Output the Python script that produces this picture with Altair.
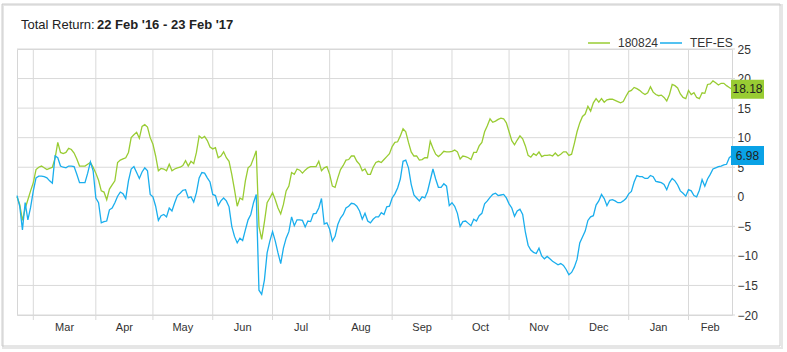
import altair as alt
import pandas as pd

# ---------------- data ----------------
series_names = ["180824", "TEF-ES"]
line_colors = ["#99cc33", "#1aaeed"]
badge_colors = ["#99cc33", "#0aa2e6"]

green_values = [
    0.0, -1.3, -4.0, -2.0, -0.5, 1.0, 2.4, 4.6, 5.0, 5.2,
    4.9, 4.6, 4.8, 5.0, 6.5, 9.2, 7.5, 7.3, 7.5, 8.2,
    8.0, 7.4, 6.4, 5.2, 5.2, 5.2, 5.5, 5.8, 5.0, 4.0,
    2.8, 1.0, 0.8, -0.5, 1.3, 2.0, 2.7, 5.8, 6.2, 6.4,
    6.6, 7.5, 10.0, 10.5, 10.9, 9.9, 11.9, 12.2, 11.8, 10.0,
    8.9, 6.9, 4.4, 4.8, 4.7, 4.4, 5.5, 4.4, 4.7, 4.9,
    5.0, 5.3, 6.1, 5.2, 6.0, 5.6, 7.5, 10.3, 9.9, 10.2,
    9.5, 8.4, 8.1, 8.3, 6.6, 6.9, 7.6, 6.6, 6.0, 3.8,
    1.2, -1.6, -0.2, -0.5, 2.7, 4.9, 5.3, 6.5, 7.8, -5.0,
    -7.2, -4.3, -1.0, -0.2, 0.7, -0.5, -1.9, -2.9, -1.3, 1.0,
    1.8, 4.1, 3.8, 4.7, 4.5, 4.0, 4.5, 4.9, 5.1, 5.1,
    5.1, 6.0, 4.4, 4.9, 5.1, 3.8, 1.8, 1.6, 3.2, 4.6,
    5.3, 6.2, 6.3, 6.9, 6.9, 6.0, 5.5, 4.4, 4.7, 3.8,
    3.8, 5.0, 5.8, 6.0, 5.8, 6.3, 6.8, 7.3, 8.5, 9.2,
    9.3, 10.3, 11.5, 11.0, 9.2, 7.6, 6.9, 6.9, 6.2, 6.3,
    6.6, 6.6, 9.4, 8.2, 7.2, 6.8, 7.2, 7.7, 7.6, 7.6,
    7.7, 7.9, 7.6, 6.4, 6.9, 6.8, 6.6, 6.3, 7.5, 7.5,
    8.6, 9.2, 11.0, 12.0, 13.2, 12.6, 12.8, 13.1, 13.3, 13.2,
    12.5, 11.0, 9.5, 8.8, 9.6, 10.3, 9.8, 8.6, 7.0, 6.7,
    7.3, 7.0, 7.6, 6.8, 7.0, 7.0, 7.1, 6.9, 7.4, 6.9,
    7.2, 7.6, 7.6, 7.0, 7.2, 9.0, 11.0, 12.5, 13.6, 14.0,
    15.3, 14.5, 15.9, 16.6, 16.0, 16.6, 16.0, 16.4, 16.5, 16.5,
    16.3, 16.1, 15.9, 16.1, 17.0, 17.8, 18.0, 18.5, 18.3, 18.0,
    17.6, 17.3, 17.6, 18.6, 17.7, 17.3, 17.1, 17.2, 16.8, 16.2,
    17.3, 19.0, 18.8, 18.4, 17.4, 16.8, 16.6, 18.0, 17.3, 17.6,
    16.8, 16.6, 17.6, 17.5, 19.0, 19.1, 19.6, 19.3, 18.9, 19.2,
    19.2, 18.8, 18.5, 18.18,
]

blue_values = [
    0.2, -1.6, -5.6, -1.0, -3.9, -1.8, 1.0, 3.2, 3.5, 3.5,
    3.4, 3.2, 2.7, 2.3, 6.9, 6.6, 5.2, 5.0, 4.9, 5.2,
    5.2, 5.1, 3.8, 2.4, 2.4, 2.4, 4.0, 5.9, 4.4, -0.2,
    -1.0, -4.4, -4.2, -4.1, -2.2, -1.9, -1.0, 0.1, 0.8, 0.5,
    -0.3, 2.7, 4.7, 5.1, 4.1, 3.1, 4.2, 4.9, 4.4, 0.4,
    0.0, -1.6, -4.0, -3.2, -3.0, -3.4, -1.9, -2.4, -1.0, 0.2,
    0.6, 1.1, 1.2, -0.2, 0.0, -0.9, 0.7, 3.2, 4.1, 4.0,
    3.2, 2.5, 0.4, 0.2, -1.5, -0.7, -0.2, -0.7, -1.7, -5.0,
    -6.7, -7.8, -7.0, -7.4, -5.6, -3.9, -3.0, -1.0, 0.4, -15.8,
    -16.5, -14.1, -9.5, -7.5, -5.9, -7.5, -9.5, -11.3, -8.7, -7.0,
    -5.9, -3.4, -4.9, -3.9, -3.9, -4.0, -5.1, -4.1, -4.2, -2.9,
    -2.8, -1.9, -0.3, -4.6, -4.4, -5.5, -7.5, -6.7, -4.7, -3.6,
    -3.0, -1.9, -1.6, -1.1, -1.2, -1.6, -2.4, -3.8, -2.8, -4.1,
    -4.4, -3.8, -3.4, -3.4, -2.7, -3.0, -1.7, -1.6, -0.2, 0.5,
    1.5, 3.0, 6.0, 6.2, 4.9, 2.1, 0.3, -0.2, -0.7, 0.0,
    -0.2, 0.9, 2.8, 4.7, 3.0, 1.6, 1.6, 2.2, 1.8, -1.5,
    -1.0, -1.6, -2.8, -5.0, -4.2, -4.1, -4.5, -4.9, -3.8, -4.1,
    -3.2, -2.8, -1.2, -0.7, -0.1, 0.4, 0.6, 0.2, 0.3, 0.4,
    -0.2, -1.2, -1.9, -3.3, -2.4, -2.1, -3.0, -6.0, -8.2, -9.0,
    -9.4, -9.6, -8.7, -10.0, -10.5, -10.1, -10.5, -10.9, -11.2, -11.5,
    -11.3, -11.6, -12.3, -13.2, -12.8, -11.9, -10.6, -7.8, -6.8, -5.8,
    -4.0, -3.4, -3.2, -1.4, -0.7, 0.4, -0.3, -1.5, -0.6, -0.5,
    -0.7, -1.0, -1.0, -0.7, -0.3, 0.5, 0.9, 2.5, 3.6, 3.4,
    3.4, 3.1, 3.1, 3.6, 3.4, 2.6, 2.5, 2.4, 2.1, 1.2,
    2.4, 3.1, 2.7, 2.0, 1.0, 0.6, 0.1, 1.2, 1.0, 0.2,
    0.0, 1.1, 2.9, 1.8, 3.0, 3.8, 4.7, 4.9, 5.1, 5.2,
    5.4, 5.5, 6.6, 6.98,
]

y_ticks = [-20, -15, -10, -5, 0, 5, 10, 15, 20, 25]
month_labels = ["Mar", "Apr", "May", "Jun", "Jul", "Aug", "Sep", "Oct",
                "Nov", "Dec", "Jan", "Feb"]
title_lead = "Total Return:"
title_period = "22 Feb '16 - 23 Feb '17"

# ---------------- derived tables ----------------
trading_days = pd.bdate_range("2016-02-22", "2017-02-23")
n = len(trading_days)
assert len(green_values) == n and len(blue_values) == n, (n, len(green_values), len(blue_values))

month_starts = [i for i in range(1, n) if trading_days[i].month != trading_days[i - 1].month]
edges = month_starts + [n - 1]
month_mid = [(edges[i] + edges[i + 1]) / 2 for i in range(len(month_starts))]

lines_df = pd.DataFrame({
    "day": list(range(n)) * 2,
    "value": green_values + blue_values,
    "series": [series_names[0]] * n + [series_names[1]] * n,
})
months_df = pd.DataFrame({"month": month_labels, "mid": month_mid})
vgrid_df = pd.DataFrame({"day": month_starts})
hgrid_df = pd.DataFrame({"value": y_ticks})
last_df = pd.DataFrame({"series": series_names,
                        "value": [green_values[-1], blue_values[-1]]})

W, H = 715, 266
FONT = "Liberation Sans"
GRID = "#d9d9d9"

x_scale = alt.Scale(domain=[0, n - 1], nice=False, zero=False)
y_scale = alt.Scale(domain=[-20, 25], nice=False, zero=False)
color_scale = alt.Scale(domain=series_names, range=line_colors)

x_axis = alt.Axis(values=month_starts, grid=False, labels=False, ticks=False,
                  domain=False, title=None)
y_axis = alt.Axis(orient="right", values=y_ticks, grid=False, domain=False,
                  ticks=False, labelPadding=5, labelFont=FONT, labelFontSize=12,
                  labelColor="#333333", title=None, zindex=0)

shadow = alt.Chart(pd.DataFrame({"k": [0]})).mark_rect(
    fillOpacity=0, stroke="#e6e6e6", strokeWidth=2
).encode(x=alt.value(-14), x2=alt.value(765), y=alt.value(-44), y2=alt.value(299))

frame = alt.Chart(pd.DataFrame({"k": [0]})).mark_rect(
    fillOpacity=0, stroke="#cccccc", strokeWidth=1
).encode(x=alt.value(-15), x2=alt.value(763), y=alt.value(-45), y2=alt.value(297))

vgrid = alt.Chart(vgrid_df).mark_rule(color=GRID, strokeWidth=1).encode(
    x=alt.X("day:Q", scale=x_scale, axis=x_axis),
    y=alt.value(0), y2=alt.value(H + 5),
)

hgrid = alt.Chart(hgrid_df).mark_rule(color=GRID, strokeWidth=1).encode(
    y=alt.Y("value:Q", scale=y_scale, axis=y_axis),
    x=alt.value(0), x2=alt.value(W + 3),
)

lines = alt.Chart(lines_df).mark_line(strokeWidth=1.3).encode(
    x=alt.X("day:Q", scale=x_scale, axis=x_axis),
    y=alt.Y("value:Q", scale=y_scale, axis=y_axis),
    color=alt.Color("series:N", scale=color_scale,
                    legend=alt.Legend(orient="none", legendX=570, legendY=-18,
                                      direction="horizontal", title=None,
                                      symbolType="stroke", symbolSize=484,
                                      symbolStrokeWidth=1.5, labelFont=FONT,
                                      labelFontSize=12, labelColor="#333333",
                                      labelOffset=7, columnPadding=-4, padding=0)),
    order=alt.Order("day:Q"),
)

month_text = alt.Chart(months_df).mark_text(
    font=FONT, fontSize=11, color="#333333", baseline="middle"
).encode(
    x=alt.X("mid:Q", scale=x_scale, axis=x_axis),
    y=alt.value(H + 13),
    text="month:N",
)

badges = alt.Chart(last_df).mark_tick(
    orient="horizontal", thickness=19, size=33, opacity=1
).encode(
    x=alt.value(730.5),
    y=alt.Y("value:Q", scale=y_scale, axis=y_axis),
    fill=alt.Fill("series:N", scale=alt.Scale(domain=series_names, range=badge_colors),
                  legend=None),
)

badge_text = alt.Chart(last_df).mark_text(
    font=FONT, fontSize=12, color="#222222", baseline="middle", align="center"
).encode(
    x=alt.value(730.5),
    y=alt.Y("value:Q", scale=y_scale, axis=y_axis),
    text=alt.Text("value:Q", format=".2f"),
)

title_a = alt.Chart(pd.DataFrame({"t": [title_lead]})).mark_text(
    font=FONT, fontSize=13, color="#222222", align="left", baseline="alphabetic"
).encode(x=alt.value(4), y=alt.value(-20), text="t:N")

title_b = alt.Chart(pd.DataFrame({"t": [title_period]})).mark_text(
    font=FONT, fontSize=13, fontWeight="bold", color="#222222", align="left",
    baseline="alphabetic"
).encode(x=alt.value(80), y=alt.value(-20), text="t:N")

chart = alt.layer(
    shadow, frame, vgrid, hgrid, lines, month_text, badges, badge_text, title_a, title_b
).properties(
    width=W, height=H,
    autosize=alt.AutoSizeParams(type="none"),
    padding={"left": 17, "top": 49, "right": 55, "bottom": 37},
    background="white",
).configure_view(stroke="#d6d6d6")

chart.save("out.html", embed_options={"renderer": "svg", "actions": False})
